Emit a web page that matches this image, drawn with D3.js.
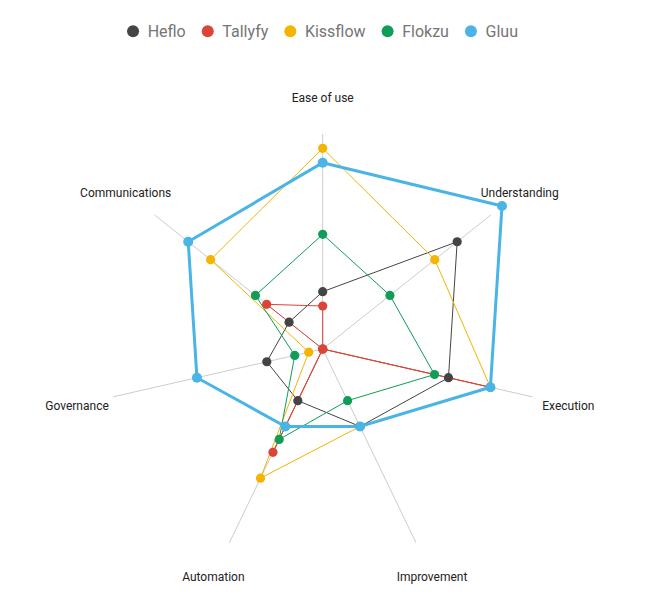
<!DOCTYPE html>
<html>
<head>
    <style type="text/css">
        body { margin: 0; background: #fff; }
        text { font-family: Roboto, "Noto Sans", Arial, sans-serif; }
    </style>
</head>
<body>
    <svg width="645" height="609"></svg>
    <script src="https://d3js.org/d3.v7.min.js"></script>
    <script>
        // axes, clockwise from the top
        var axes = ["Ease of use", "Understanding", "Execution", "Improvement", "Automation", "Governance", "Communications"];
        var seriesNames = ["Heflo", "Tallyfy", "Kissflow", "Flokzu", "Gluu"];
        var colors = ["#444444", "#db4437", "#f4b400", "#0f9d58", "#4ab4e6"];

        var heflo    = [4, 12, 9, 6, 4, 4, 3];
        var tallyfy  = [3, 0, 12, 0, 8, 0, 5];
        var kissflow = [14, 10, 12, 6, 10, 1, 10];
        var flokzu   = [8, 6, 8, 4, 7, 2, 6];
        var gluu     = [13, 16, 12, 6, 6, 9, 12];
        var series = [heflo, tallyfy, kissflow, flokzu, gluu];

        var axisMax = 15;

        var svg = d3.select("svg"),
            cx = 322.7, cy = 349,
            radius = 215,
            labelRadius = 252;

        var r = d3.scaleLinear().domain([0, axisMax]).range([0, radius]);
        var angle = d3.scaleLinear().domain([0, axes.length]).range([0, 2 * Math.PI]);

        function px(i, v) { return cx + Math.sin(angle(i)) * r(v); }
        function py(i, v) { return cy - Math.cos(angle(i)) * r(v); }

        var g = svg.append("g");

        // spokes
        g.selectAll(".spoke").data(axes).enter().append("line")
            .attr("x1", cx).attr("y1", cy)
            .attr("x2", function (d, i) { return px(i, axisMax); })
            .attr("y2", function (d, i) { return py(i, axisMax); })
            .attr("stroke", "#cccccc").attr("stroke-width", 1);

        // axis labels
        g.selectAll(".label").data(axes).enter().append("text")
            .attr("x", function (d, i) { return cx + Math.sin(angle(i)) * labelRadius; })
            .attr("y", function (d, i) { return cy - Math.cos(angle(i)) * labelRadius; })
            .attr("text-anchor", "middle")
            .attr("dy", "0.42em")
            .attr("font-size", 12)
            .attr("fill", "#222")
            .text(function (d) { return d; });

        var line = d3.line()
            .x(function (d, i) { return px(i, d); })
            .y(function (d, i) { return py(i, d); })
            .curve(d3.curveLinearClosed);

        series.forEach(function (vals, s) {
            var isGluu = seriesNames[s] === "Gluu";
            g.append("path").datum(vals)
                .attr("fill", "none")
                .attr("stroke", colors[s])
                .attr("stroke-width", isGluu ? 3 : 1)
                .attr("d", line);
        });

        series.forEach(function (vals, s) {
            g.selectAll(".dot" + s).data(vals).enter().append("circle")
                .attr("cx", function (d, i) { return px(i, d); })
                .attr("cy", function (d, i) { return py(i, d); })
                .attr("r", seriesNames[s] === "Gluu" ? 5 : 4.6)
                .attr("fill", colors[s]);
        });

        // legend, centered at the top
        var legend = svg.append("g");
        var x = 0;
        seriesNames.forEach(function (name, s) {
            legend.append("circle").attr("cx", x).attr("cy", 31.3).attr("r", 6).attr("fill", colors[s]);
            var t = legend.append("text").attr("x", x + 14.6).attr("y", 31.3).attr("dy", "0.35em")
                .attr("font-size", 16).attr("fill", "#757575").text(name);
            x += 14.6 + t.node().getComputedTextLength() + 22;
        });
        var totalW = x - 22 + 6;
        legend.attr("transform", "translate(" + (322.5 - totalW / 2 + 6) + ",0)");
    </script>
</body>
</html>
